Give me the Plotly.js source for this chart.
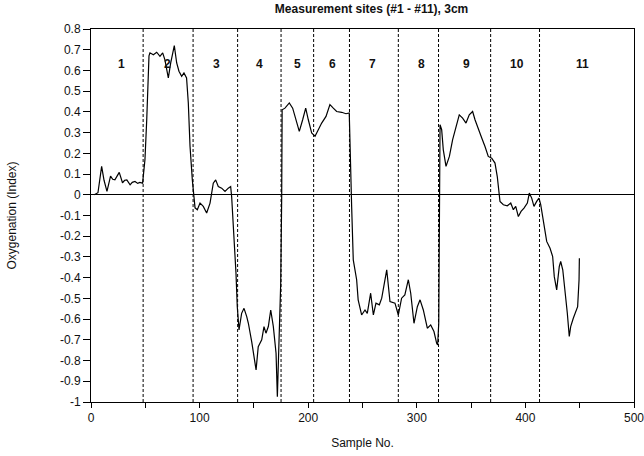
<!DOCTYPE html>
<html>
<head>
<meta charset="utf-8">
<script src="https://cdn.plot.ly/plotly-3.0.1.min.js"></script>
<style>html,body{margin:0;padding:0;background:#fff;}#chart{width:644px;height:456px;}</style>
</head>
<body>
<div id="chart"></div>
<script>
// Sample numbers and oxygenation index
const sampleNo = [3,6.4,9.8,12,14.7,18,20,22,24,26,29,31,33,36,38,40.5,43,45,47.5,49.7,51.3,53.4,54.3,57.4,60.5,63.5,66,68,71.2,73.4,76.7,78.9,81,83.5,85.6,88,89.6,91.2,93.3,94.8,95.8,97.9,100.4,103.4,106.5,109.6,112.6,114.8,117.2,120.3,123.4,126.4,128.6,129.5,131.7,133.5,134.7,136.3,138.7,140.9,143.4,144.9,148,150,152,154,157.2,159.3,161.1,163.3,165.5,167.9,170.4,171.6,173.4,174.7,175.6,176,178.6,182.6,185.7,188.8,191.8,194.9,197.7,200.1,203.2,206.3,209.3,212.4,216.4,220,223.1,226.2,230.8,234.8,237.8,239.1,240,241.5,244.6,246,249.2,252.3,254.4,257.5,260,262.4,265.5,267.7,272.3,275.3,279.9,283,286,289,292.2,294.4,297.4,300.5,303,306,309.7,312.8,315.8,318.3,319.2,320.2,320.8,321.4,322.9,324.4,326.9,330,333,336.1,339.1,342.2,345.3,348.3,351.4,353.6,356.6,359.8,362.8,365.8,369,372,374.1,376,376.6,379.7,383.3,386.5,388.9,391.1,393.5,396,398.7,401.8,403.6,405.8,407.9,410.4,412.5,414.1,415.9,418,419.6,422.7,425.1,426.6,428.8,431.2,432.5,434.4,436.5,438.6,440.4,441.7,444.1,446.6,448.1,449.4,449.7];
const oxygenation = [0.0,0.01,0.137,0.07,0.016,0.09,0.075,0.072,0.09,0.108,0.058,0.07,0.072,0.048,0.06,0.064,0.055,0.06,0.056,0.17,0.36,0.67,0.685,0.676,0.688,0.668,0.685,0.652,0.564,0.636,0.72,0.636,0.596,0.572,0.588,0.564,0.443,0.233,0.072,-0.015,-0.063,-0.072,-0.04,-0.056,-0.088,-0.04,0.056,0.072,0.04,0.032,0.016,0.032,0.04,-0.008,-0.2,-0.378,-0.54,-0.652,-0.572,-0.548,-0.588,-0.62,-0.71,-0.78,-0.845,-0.733,-0.7,-0.636,-0.668,-0.636,-0.556,-0.636,-0.765,-0.974,-0.636,-0.427,-0.008,0.41,0.418,0.443,0.418,0.362,0.306,0.362,0.418,0.362,0.298,0.282,0.314,0.346,0.378,0.435,0.418,0.402,0.398,0.391,0.395,0.008,-0.056,-0.314,-0.41,-0.507,-0.58,-0.556,-0.572,-0.475,-0.58,-0.523,-0.531,-0.499,-0.362,-0.515,-0.523,-0.58,-0.499,-0.483,-0.41,-0.475,-0.62,-0.54,-0.507,-0.556,-0.644,-0.628,-0.66,-0.717,-0.725,-0.62,-0.3,0.338,0.314,0.217,0.137,0.185,0.266,0.33,0.386,0.37,0.346,0.386,0.402,0.362,0.314,0.274,0.233,0.185,0.177,0.153,0.088,0.008,-0.032,-0.048,-0.053,-0.04,-0.072,-0.056,-0.105,-0.08,-0.064,-0.04,0.008,-0.016,-0.056,-0.032,-0.016,-0.048,-0.105,-0.169,-0.225,-0.258,-0.298,-0.395,-0.459,-0.346,-0.322,-0.362,-0.459,-0.572,-0.684,-0.636,-0.596,-0.564,-0.54,-0.41,-0.306];
// Site boundaries (dotted lines) and site labels
const siteBoundaries = [48, 94, 135, 175, 205, 238, 283, 320, 368, 413];
const siteLabels = ['1','2','3','4','5','6','7','8','9','10','11'];
const siteLabelX = [28, 70, 116, 155, 190, 222, 259, 304, 346, 392, 453];
const siteLabelY = 0.63;
const titleText = 'Measurement sites (#1 - #11), 3cm';
const xTitle = 'Sample No.';
const yTitle = 'Oxygenation (Index)';
const xTickVals = [0,100,200,300,400,500];
const yTickVals = [0.8,0.7,0.6,0.5,0.4,0.3,0.2,0.1,0,-0.1,-0.2,-0.3,-0.4,-0.5,-0.6,-0.7,-0.8,-0.9,-1];

const FONT = 'Liberation Sans, Arial, sans-serif';

const trace = {
  x: sampleNo, y: oxygenation, type: 'scatter', mode: 'lines',
  line: {color: '#000', width: 1.2}, hoverinfo: 'skip'
};

const shapes = siteBoundaries.map(b => ({
  type: 'line', xref: 'x', yref: 'paper', x0: b, x1: b, y0: 0, y1: 1,
  line: {color: '#000', width: 1, dash: '3px,2px'}
}));

const annotations = siteLabels.map((t, i) => ({
  x: siteLabelX[i], y: siteLabelY, xref: 'x', yref: 'y', text: t,
  showarrow: false, font: {family: FONT, size: 12, color: '#111', weight: 'bold'}
}));

const layout = {
  width: 644, height: 456,
  margin: {l: 91, r: 10, t: 29, b: 54},
  paper_bgcolor: '#fff', plot_bgcolor: '#fff',
  showlegend: false,
  title: {text: titleText, x: 0.577, xanchor: 'center', y: 0.99, yanchor: 'top',
          font: {family: FONT, size: 12, color: '#111', weight: 'bold'}},
  xaxis: {
    range: [0, 500], tickmode: 'array', tickvals: xTickVals,
    ticks: 'outside', ticklen: 5, tickcolor: '#000', minor: {dtick: 50, ticks: 'outside', ticklen: 5, tickcolor: '#000'},
    showline: true, linecolor: '#000', linewidth: 1, mirror: true,
    showgrid: false, zeroline: false, ticklabeloverflow: 'allow',
    tickfont: {family: FONT, size: 12, color: '#111'},
    title: {text: xTitle, standoff: 14, font: {family: FONT, size: 12, color: '#111'}}
  },
  yaxis: {
    range: [-1, 0.8], tickmode: 'array', tickvals: yTickVals,
    ticktext: yTickVals.map(v => String(v)),
    ticks: 'outside', ticklen: 7, tickcolor: '#000',
    showline: true, linecolor: '#000', linewidth: 1, mirror: true,
    showgrid: false, zeroline: true, zerolinecolor: '#000', zerolinewidth: 1,
    tickfont: {family: FONT, size: 12, color: '#111'},
    title: {text: yTitle, standoff: 40, font: {family: FONT, size: 12, color: '#111'}}
  },
  shapes: shapes,
  annotations: annotations
};

Plotly.newPlot('chart', [trace], layout, {staticPlot: true, displayModeBar: false});
</script>
</body>
</html>
